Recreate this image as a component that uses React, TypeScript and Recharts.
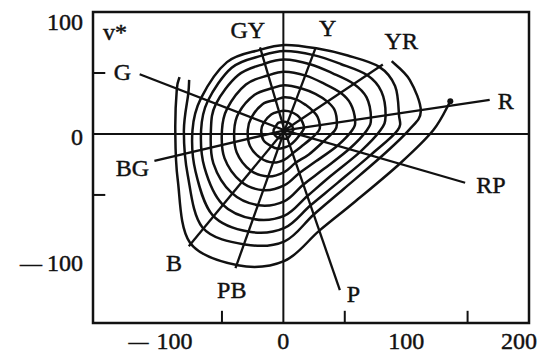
import React from 'react';
import { LineChart, Line, XAxis, YAxis, ReferenceLine, ReferenceArea, ReferenceDot } from 'recharts';

const serif = '"Liberation Serif", "DejaVu Serif", serif';
const ink = '#111';

// hue spokes: name, outer end and label spot in (u*, v*)
const hueNames = ['R', 'YR', 'Y', 'GY', 'G', 'BG', 'B', 'PB', 'P', 'RP'];
const hueEndU = [168, 81, 26, -19, -117, -105, -77, -39, 46, 148];
const hueEndV = [28, 57, 70, 71, 49, -22, -92, -110, -128, -40];
const hueLabelU = [181, 96, 36, -29, -131, -123, -89, -42, 57, 169];
const hueLabelV = [27, 76, 87, 85, 51, -28, -106, -128, -131, -42];

const centre = [1, 3];

// closed chroma rings, radius read along each hue angle (degrees)
const ringAngles = [0, 8, 22, 34, 50, 69, 90, 107, 130, 159, 180, 205, 230, 251, 270, 289, 315, 344];
const ring1 = [7, 7, 7, 7, 7, 7, 7, 7, 8, 8, 9, 9, 8, 7, 7, 7, 6, 6];
const ring2 = [15, 16, 16, 16, 16, 16, 16, 16, 17, 18, 19, 19, 17, 16, 14, 13, 12, 13];
const ring3 = [28, 29, 29, 28, 27, 27, 27, 26, 28, 29, 30, 31, 30, 28, 24, 20, 19, 23];
const ring4 = [41, 43, 44, 42, 39, 37, 37, 36, 38, 40, 41, 43, 43, 40, 34, 28, 28, 33];
const ring5 = [55, 58, 58, 55, 50, 48, 48, 47, 49, 50, 51, 54, 55, 52, 45, 37, 36, 45];
const ring6 = [67, 71, 72, 68, 61, 58, 58, 57, 59, 60, 60, 64, 67, 65, 58, 47, 45, 55];
const ring7 = [78, 83, 85, 81, 71, 66, 65, 64, 67, 67, 68, 72, 79, 77, 70, 57, 53, 64];
const ring8 = [92, 94, 97, 93, 80, 72, 70, 69, 73, 73, 75, 80, 91, 88, 80, 65, 61, 73];

// the two outer rings stop short between G and YR / R
const ring9Angles = [152, 159, 180, 205, 230, 251, 270, 289, 315, 344, 360, 368, 382, 393];
const ring9 = [88, 84, 82, 87, 104, 99, 91, 73, 68, 81, 101, 112, 110, 104];
const ring10Angles = [153, 159, 180, 205, 230, 251, 270, 289, 315, 344, 360, 370];
const ring10 = [96, 94, 89, 96, 120, 117, 107, 87, 82, 98, 121, 137];

const xTicks = [-100, 0, 100, 200];
const yTicks = [-100, 0, 100];

const toUV = (angles: number[], radii: number[]) =>
  radii.map((r, i) => {
    const a = (angles[i] * Math.PI) / 180;
    return { u: centre[0] + r * Math.cos(a), v: centre[1] + r * Math.sin(a) };
  });

// Catmull-Rom through every sample, optionally wrapped round to the start
const smooth = (closed: boolean) => (ctx: any) => {
  let pts: number[][] = [];
  return {
    areaStart() {},
    areaEnd() {},
    lineStart() {
      pts = [];
    },
    point(x: number, y: number) {
      pts.push([x, y]);
    },
    lineEnd() {
      const n = pts.length;
      if (n < 2) return;
      const at = (i: number) => (closed ? pts[(i + n) % n] : pts[Math.max(0, Math.min(n - 1, i))]);
      ctx.moveTo(pts[0][0], pts[0][1]);
      const segs = closed ? n : n - 1;
      for (let i = 0; i < segs; i++) {
        const p0 = at(i - 1), p1 = at(i), p2 = at(i + 1), p3 = at(i + 2);
        ctx.bezierCurveTo(
          p1[0] + (p2[0] - p0[0]) / 6, p1[1] + (p2[1] - p0[1]) / 6,
          p2[0] - (p3[0] - p1[0]) / 6, p2[1] - (p3[1] - p1[1]) / 6,
          p2[0], p2[1],
        );
      }
      if (closed) ctx.closePath();
    },
  };
};

const closedRings = [ring1, ring2, ring3, ring4, ring5, ring6, ring7, ring8].map((r) => toUV(ringAngles, r));
const openRings = [toUV(ring9Angles, ring9), toUV(ring10Angles, ring10)];
const spokes = hueNames.map((_, i) => [
  { u: centre[0], v: centre[1] },
  { u: hueEndU[i], v: hueEndV[i] },
]);
const rEnd = openRings[1][openRings[1].length - 1];

const textStyle = { fontFamily: serif, fill: ink, stroke: ink, strokeWidth: 0.45 };

const XTick = ({ x, y, payload }: any) => {
  const val = payload.value;
  const dx = val === 200 ? -10 : 0;
  return (
    <text x={x + dx} y={y + 26} textAnchor="middle" fontSize={24} {...textStyle}>
      {val < 0 ? (
        <>
          <tspan fontSize={20}>—</tspan>
          <tspan dx={8}>{Math.abs(val)}</tspan>
        </>
      ) : (
        val
      )}
    </text>
  );
};

const YTick = ({ x, y, payload }: any) => {
  const val = payload.value;
  const dy = val === 100 ? 18 : val === 0 ? 11 : 15;
  return (
    <text x={x} y={y + dy} textAnchor="end" fontSize={24} {...textStyle}>
      {val < 0 ? (
        <>
          <tspan fontSize={22}>—</tspan>
          <tspan dx={5}>{Math.abs(val)}</tspan>
        </>
      ) : (
        val
      )}
    </text>
  );
};

const tag = (text: string) => (p: any) => (
  <text x={p.cx} y={p.cy + 8} textAnchor="middle" fontSize={24} {...textStyle}>
    {text}
  </text>
);

export default function App() {
  return (
    <div style={{ position: 'absolute', left: 0, top: 0, width: 545, height: 353, background: '#fff' }}>
      <LineChart width={545} height={353} margin={{ top: 12, right: 16, bottom: 0, left: 0 }}>
        <XAxis
          type="number"
          dataKey="u"
          domain={[-155, 200]}
          ticks={xTicks}
          allowDataOverflow
          axisLine={false}
          tickLine={false}
          tickSize={0}
          tickMargin={0}
          height={30}
          tick={<XTick />}
        />
        <YAxis
          type="number"
          dataKey="v"
          domain={[-155, 100]}
          ticks={yTicks}
          allowDataOverflow
          axisLine={false}
          tickLine={false}
          tickSize={0}
          tickMargin={10}
          width={93}
          tick={<YTick />}
        />
        <ReferenceArea x1={-155} x2={200} y1={-155} y2={100} fill="none" stroke={ink} strokeWidth={2.5} />
        <ReferenceLine x={0} stroke={ink} strokeWidth={2} />
        <ReferenceLine y={0} stroke={ink} strokeWidth={2} />
        {[-50, 50, 150].map((t) => (
          <ReferenceLine key={`xt${t}`} segment={[{ x: t, y: -155 }, { x: t, y: -145 }]} stroke={ink} strokeWidth={2} />
        ))}
        {[-50, 50].map((t) => (
          <ReferenceLine key={`yt${t}`} segment={[{ x: -155, y: t }, { x: -145, y: t }]} stroke={ink} strokeWidth={2} />
        ))}

        {closedRings.map((d, i) => (
          <Line key={`c${i}`} data={d} dataKey="v" type={smooth(true) as any} stroke={ink} strokeWidth={2.5}
            dot={false} activeDot={false} isAnimationActive={false} />
        ))}
        {openRings.map((d, i) => (
          <Line key={`o${i}`} data={d} dataKey="v" type={smooth(false) as any} stroke={ink} strokeWidth={2.5}
            dot={false} activeDot={false} isAnimationActive={false} />
        ))}
        {spokes.map((d, i) => (
          <Line key={`s${i}`} data={d} dataKey="v" type="linear" stroke={ink} strokeWidth={2.3}
            dot={false} activeDot={false} isAnimationActive={false} />
        ))}
        <ReferenceDot x={rEnd.u} y={rEnd.v} r={3} fill={ink} stroke="none" />

        {hueNames.map((h, i) => (
          <ReferenceDot key={h} x={hueLabelU[i]} y={hueLabelV[i]} r={1} shape={tag(h)} />
        ))}
        <ReferenceDot x={-137} y={84} r={1} shape={tag('v*')} />
      </LineChart>
    </div>
  );
}
